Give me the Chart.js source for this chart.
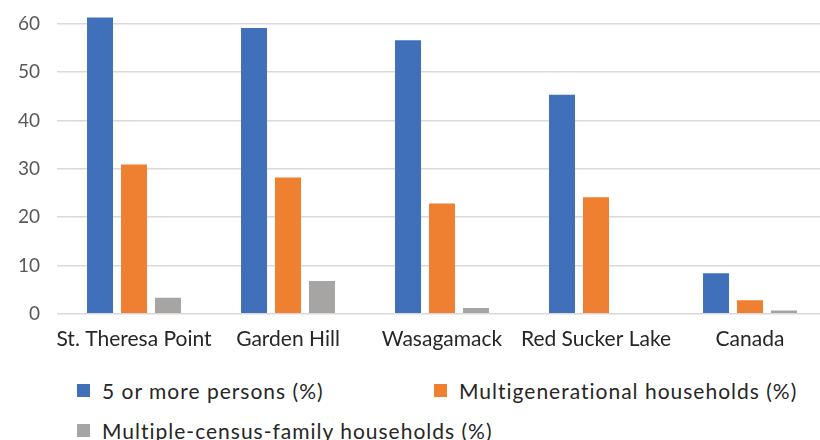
<!DOCTYPE html>
<html>
<head>
<meta charset="utf-8">
<script src="https://cdn.jsdelivr.net/npm/chart.js@4"></script>
<style>
  html, body { margin: 0; padding: 0; background: #fff; overflow: hidden; }
  body { width: 820px; height: 440px; position: relative; font-family: Lato, "Open Sans", sans-serif; }
  #wrap { position: absolute; left: 0; top: -24px; width: 830px; height: 389px; }
  #legend { position: absolute; left: 77px; top: 370px; width: 743px; display: flex; flex-wrap: wrap; }
  .item { width: 357px; height: 40px; display: flex; align-items: center; font-size: 21px; letter-spacing: 1px; color: #262626; white-space: nowrap; }
  .box { width: 13px; height: 13px; margin-right: 12px; flex: none; }
</style>
</head>
<body>
<div id="wrap"><canvas id="chart"></canvas></div>
<div id="legend"></div>
<script>
// --- DATA ---
const communities = ["St. Theresa Point", "Garden Hill", "Wasagamack", "Red Sucker Lake", "Canada"];
const fivePlus = [61.3, 59.1, 56.6, 45.3, 8.4];
const multigen = [30.9, 28.2, 22.8, 24.1, 2.8];
const multiFamily = [3.3, 6.8, 1.2, null, 0.7];
const yTicks = [0, 10, 20, 30, 40, 50, 60];

const seriesNames = ["5 or more persons (%)", "Multigenerational households (%)", "Multiple-census-family households (%)"];
const seriesColors = ["#4070b9", "#ef7f31", "#a6a5a3"];

const datasets = [fivePlus, multigen, multiFamily].map((vals, i) => ({
    label: seriesNames[i],
    data: vals,
    backgroundColor: seriesColors[i],
    borderWidth: 0,
    categoryPercentage: 0.662,
    barPercentage: 0.765
}));

new Chart(document.getElementById("chart"), {
    type: "bar",
    data: { labels: communities, datasets: datasets },
    options: {
        responsive: true,
        maintainAspectRatio: false,
        animation: false,
        layout: { padding: { top: 4, right: 3, bottom: 8, left: 0 } },
        plugins: { legend: { display: false }, tooltip: { enabled: false } },
        scales: {
            x: {
                grid: { display: false },
                border: { display: false },
                ticks: { color: "#262626", font: { family: "Lato", size: 21 }, padding: 5, maxRotation: 0, autoSkip: false }
            },
            y: {
                min: 0,
                max: 64,
                afterBuildTicks: (scale) => { scale.ticks = yTicks.map(v => ({ value: v })); },
                afterFit: (scale) => { scale.width = 57; },
                grid: { color: "#d9d9d9", lineWidth: 1.5, drawTicks: false },
                border: { display: false },
                ticks: { color: "#595959", font: { family: "Lato", size: 19 }, padding: 17 }
            }
        }
    }
});

// legend laid out in two fixed columns below the plot
const legend = document.getElementById("legend");
seriesNames.forEach((name, i) => {
    const item = document.createElement("div");
    item.className = "item";
    item.innerHTML = `<span class="box" style="background:${seriesColors[i]}"></span><span>${name}</span>`;
    legend.appendChild(item);
});
</script>
</body>
</html>
